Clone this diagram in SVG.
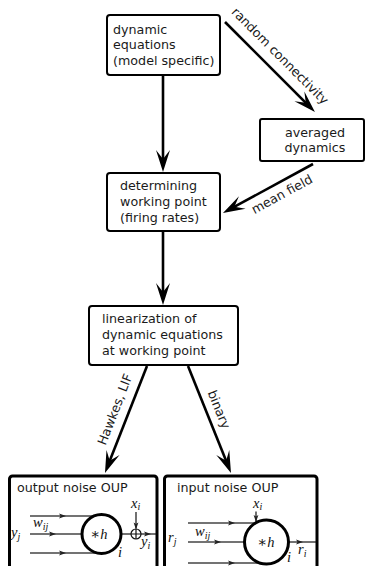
<svg xmlns="http://www.w3.org/2000/svg" width="365" height="566" viewBox="0 0 365 566">
<defs>
<marker id="big" markerUnits="userSpaceOnUse" markerWidth="24" markerHeight="16" refX="14" refY="8" orient="auto" overflow="visible"><path d="M22,8 L0,1 L9,8 L0,15 Z" fill="#000"/></marker>
<marker id="sm" markerUnits="userSpaceOnUse" markerWidth="8" markerHeight="6" refX="4" refY="3" orient="auto" overflow="visible"><path d="M7,3 L0,0.6 L1.6,3 L0,5.4 Z" fill="#222"/></marker>
<marker id="smEnd" markerUnits="userSpaceOnUse" markerWidth="8" markerHeight="6" refX="6" refY="3" orient="auto" overflow="visible"><path d="M7,3 L0,0.6 L1.6,3 L0,5.4 Z" fill="#222"/></marker>
</defs>
<style>
.box{fill:#fff;stroke:#000;stroke-width:2}
.bbox{fill:#fff;stroke:#000;stroke-width:3}
.t{font-family:"DejaVu Sans",sans-serif;font-size:12.7px;fill:#1a1a1a}
.conn{stroke:#000;stroke-width:2.6;fill:none;marker-end:url(#big)}
.wa{stroke:#444;stroke-width:1.3;fill:none;marker-mid:url(#sm)}
.k{stroke:#111;stroke-width:1.2;fill:none}
.m{font-family:"Liberation Serif","DejaVu Serif",serif;font-style:italic;font-size:14.5px;fill:#111}
.sub{font-size:10px}
.neur{fill:#fff;stroke:#000;stroke-width:3}
</style>

<g id="dyn">
<rect class="box" x="107" y="15" width="113" height="60" rx="3"/>
<text class="t" x="113" y="33.5">dynamic</text>
<text class="t" x="113" y="49">equations</text>
<text class="t" x="113" y="65">(model specific)</text>
</g>

<g id="avg">
<rect class="box" x="260" y="119" width="104" height="42" rx="2"/>
<text class="t" x="315" y="136.5" text-anchor="middle">averaged</text>
<text class="t" x="315" y="152" text-anchor="middle">dynamics</text>
</g>

<g id="wp">
<rect class="box" x="107" y="173" width="113" height="58" rx="3"/>
<text class="t" x="120" y="190">determining</text>
<text class="t" x="120" y="206">working point</text>
<text class="t" x="120" y="222">(firing rates)</text>
</g>

<g id="lin">
<rect class="box" x="89" y="306" width="149" height="59" rx="3"/>
<text class="t" x="102" y="323">linearization of</text>
<text class="t" x="102" y="339">dynamic equations</text>
<text class="t" x="102" y="355">at working point</text>
</g>

<g id="out">
<rect class="bbox" x="9.5" y="476" width="147.5" height="110" rx="3"/>
<text class="t" x="17" y="492">output noise OUP</text>
<path class="wa" d="M30,516 L63,516 L94,516"/>
<path class="wa" d="M30,534 L53,534 L82,534"/>
<path class="wa" d="M30,553 L63,553 L97,553"/>
<path class="k" d="M121,534 L131,534"/>
<path class="k" d="M141,534 L148,534 L156,534" style="marker-mid:url(#sm)"/>
<circle class="k" cx="136" cy="534" r="5" fill="#fff"/>
<path class="k" d="M131,534 L141,534 M136,529 L136,539"/>
<path class="k" d="M136,512 L136,528.5" style="marker-end:url(#smEnd)"/>
<circle class="neur" cx="101.5" cy="534" r="19.5"/>
<text class="m" x="99" y="538.5" text-anchor="middle"><tspan font-style="normal">∗</tspan>h</text>
<text class="m" x="11" y="537">y<tspan class="sub" dy="2.5">j</tspan></text>
<text class="m" x="33" y="527">w<tspan class="sub" dy="2.5">ij</tspan></text>
<text class="m" x="131" y="507.5">x<tspan class="sub" dy="2.5">i</tspan></text>
<text class="m" x="141" y="546">y<tspan class="sub" dy="2.5">i</tspan></text>
<text class="m" x="118" y="557">i</text>
</g>

<g id="in">
<rect class="bbox" x="164.5" y="476" width="152.5" height="110" rx="3"/>
<text class="t" x="177" y="492">input noise OUP</text>
<path class="wa" d="M188,523 L232,523 L255,523"/>
<path class="wa" d="M188,542 L218,542 L244.5,542"/>
<path class="wa" d="M188,563 L232,563 L260,563"/>
<path class="k" d="M288.5,542 L300,542 L316,542" style="marker-mid:url(#sm)"/>
<path class="k" d="M256,511.5 L256,521" style="marker-end:url(#smEnd)"/>
<circle class="neur" cx="266.5" cy="542" r="22"/>
<text class="m" x="266" y="546.5" text-anchor="middle"><tspan font-style="normal">∗</tspan>h</text>
<text class="m" x="168" y="542">r<tspan class="sub" dy="2.5">j</tspan></text>
<text class="m" x="195" y="536">w<tspan class="sub" dy="2.5">ij</tspan></text>
<text class="m" x="253" y="507.5">x<tspan class="sub" dy="2.5">i</tspan></text>
<text class="m" x="298" y="554">r<tspan class="sub" dy="2.5">i</tspan></text>
<text class="m" x="287" y="562">i</text>
</g>

<g id="connectors">
<path class="conn" d="M163,76 L163,164"/>
<path class="conn" d="M225,22 L309.3,106.3"/>
<path class="conn" d="M313,164 L230,209.2"/>
<path class="conn" d="M163,232 L163,297"/>
<path class="conn" d="M147,366 L107.9,465.5"/>
<path class="conn" d="M188,366 L228,465.5"/>
<text class="t" x="277" y="59" text-anchor="middle" transform="rotate(45 277 59)">random connectivity</text>
<text class="t" x="284" y="198" text-anchor="middle" transform="rotate(-28.6 284 198)">mean field</text>
<text class="t" x="119" y="411" text-anchor="middle" transform="rotate(-68.8 119 411)">Hawkes, LIF</text>
<text class="t" x="215" y="411" text-anchor="middle" transform="rotate(68.1 215 411)">binary</text>
</g>
</svg>
